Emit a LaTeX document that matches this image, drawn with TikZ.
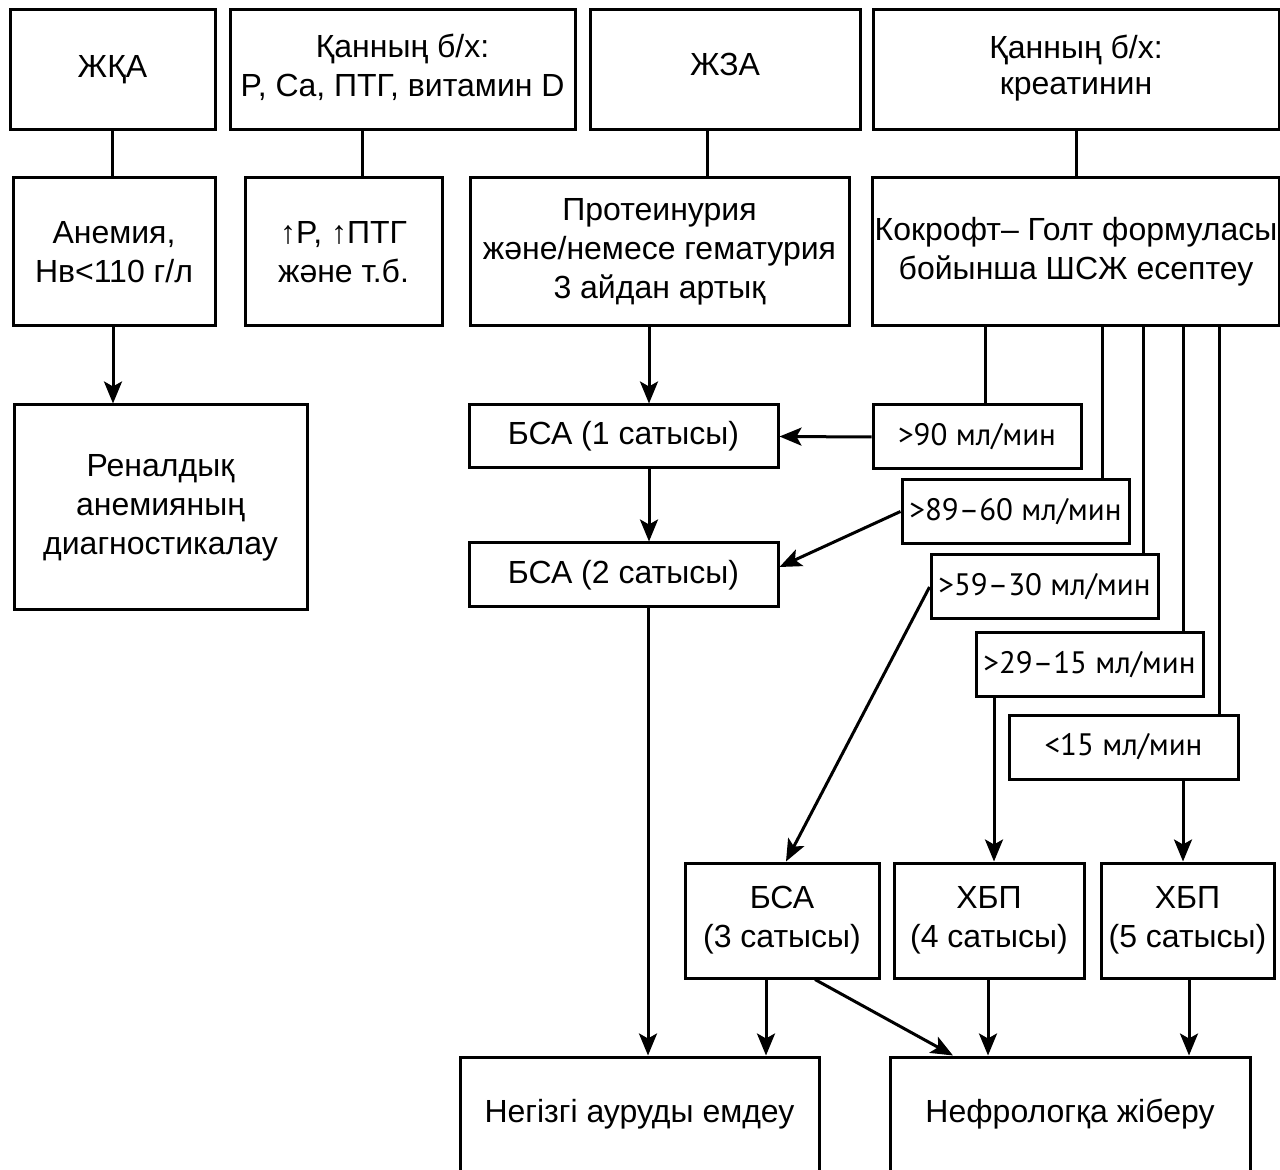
\documentclass[tikz,border=0pt]{standalone}
\usepackage{fontspec}
\setmainfont{Liberation Sans}
\newfontfamily\rangefont{PT Sans}
\usetikzlibrary{arrows.meta}

\tikzset{
  box/.style={draw, line width=1.5pt, align=center, inner sep=1pt, font=\fontsize{16}{19.5}\selectfont},
  topbox/.style={box, minimum height=60pt, font=\fontsize{16}{19.5}\selectfont},
  midbox/.style={box, minimum height=74pt},
  gfr/.style={box, minimum height=32pt, font=\rangefont\fontsize{15.5}{18}\selectfont},
  arr/.style={-{Stealth[length=11pt,width=9pt,inset=2.5pt]}, line width=1.5pt},
  link/.style={line width=1.5pt}
}

\begin{document}
\begin{tikzpicture}[x=0.5pt, y=-0.5pt]
		\useasboundingbox (0,0) rectangle (1280,1170);
		\clip (0,0) rectangle (1280,1170);

		\node[topbox, minimum width=102.5pt] (zhka) at (112.5,70) {ЖҚА};
		\node[topbox, minimum width=172.5pt] (qan1) at (402.5,70) {Қанның б/х:\\P, Ca, ПТГ, витамин D\\[-15pt]\mbox{}};
		\node[topbox, minimum width=135pt] (zhza) at (725,70) {ЖЗА\\[-14pt]\mbox{}};
		\node[topbox, minimum width=203pt] (qan2) at (1076,70) {Қанның б/х:\\[-1.5pt]креатинин\\[-14pt]\mbox{}};

		\node[midbox, minimum width=101pt] (anem) at (114,252) {Анемия,\\Нв<110 г/л};
		\node[midbox, minimum width=98.5pt] (ptg) at (343.5,252) {↑P, ↑ПТГ\\және т.б.};
		\node[midbox, minimum width=189.5pt] (prot) at (659.5,252) {Протеинурия\\және/немесе гематурия\\3 айдан артық};
		\node[midbox, minimum width=203pt] (cock) at (1076,252) {Кокрофт– Голт формуласы\\бойынша ШСЖ есептеу};

		\node[box, minimum width=146.5pt, minimum height=102.5pt] (ren) at (160.5,507.5) {Реналдық\\анемияның\\диагностикалау};

		\node[box, minimum width=154.5pt, minimum height=31.5pt] (bsa1) at (623.5,436.5) {БСА (1 сатысы)};
		\node[box, minimum width=154.5pt, minimum height=32pt] (bsa2) at (623.5,575) {БСА (2 сатысы)};

		\node[gfr, minimum width=104pt] (r90) at (977,437) {>90 мл/мин};
		\node[gfr, minimum width=113.5pt] (r60) at (1015.5,511.5) {>89–60 мл/мин};
		\node[gfr, minimum width=113.5pt] (r30) at (1044.5,587) {>59–30 мл/мин};
		\node[gfr, minimum width=113.5pt] (r15) at (1089.5,665) {>29–15 мл/мин};
		\node[gfr, minimum width=114.5pt] (r0) at (1123.5,747) {<15 мл/мин};

		\node[box, minimum width=97pt, minimum height=57.5pt] (bsa3) at (782,920.5) {БСА\\(3 сатысы)};
		\node[box, minimum width=95pt, minimum height=57.5pt] (cbp4) at (989,920.5) {ХБП\\(4 сатысы)};
		\node[box, minimum width=86.5pt, minimum height=57.5pt] (cbp5) at (1187.5,920.5) {ХБП\\(5 сатысы)};

		\node[box, minimum width=179.5pt, minimum height=57.5pt] (neg) at (639.5,1114.5) {Негізгі ауруды емдеу};
		\node[box, minimum width=180pt, minimum height=57.5pt] (nef) at (1070,1114.5) {Нефрологқа жіберу};

		\draw[link] (zhka.south -| 112,0) -- (anem.north -| 112,0);
		\draw[link] (qan1.south -| 362,0) -- (ptg.north -| 362,0);
		\draw[link] (zhza.south -| 707,0) -- (prot.north -| 707,0);
		\draw[link] (qan2.south) -- (cock.north);
		\foreach \n/\x in {r90/985, r60/1102, r30/1143, r15/1183, r0/1219}
			\draw[link] (cock.south -| \x,0) -- (\n.north -| \x,0);

		\draw[arr] (anem.south -| 113,0) -- (ren.north -| 113,0);
		\draw[arr] (prot.south -| 649,0) -- (bsa1.north -| 649,0);
		\draw[arr] (bsa1.south -| 649,0) -- (bsa2.north -| 649,0);
		\draw[arr] (bsa2.south -| 648,0) -- (neg.north -| 648,0);
		\draw[arr] (r90.west) -- (bsa1.east);
		\draw[arr] (r60.west) -- ([yshift=4pt]bsa2.east);
		\draw[arr] (r30.west) -- ([xshift=2pt]bsa3.north);
		\draw[arr] (r15.south -| 994,0) -- (cbp4.north -| 994,0);
		\draw[arr] (r0.south -| 1183,0) -- (cbp5.north -| 1183,0);
		\draw[arr] (bsa3.south -| 766,0) -- (neg.north -| 766,0);
		\draw[arr] (bsa3.south -| 815,0) -- (nef.north -| 953,0);
		\draw[arr] (cbp4.south -| 988,0) -- (nef.north -| 988,0);
		\draw[arr] (cbp5.south -| 1189,0) -- (nef.north -| 1189,0);
	\end{tikzpicture}
\end{document}
